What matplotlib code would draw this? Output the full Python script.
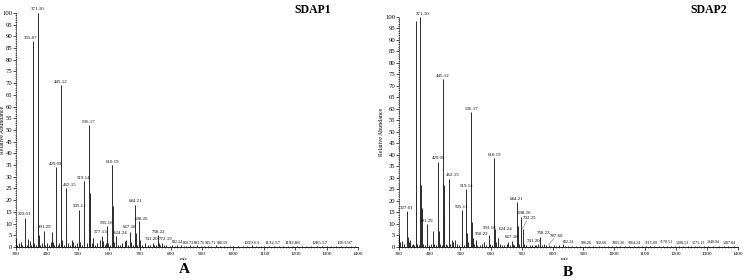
import matplotlib
matplotlib.use("Agg")
import matplotlib.pyplot as plt
from matplotlib.ticker import MultipleLocator

plt.rcParams['font.family'] = ['Liberation Serif', 'DejaVu Serif']

# ---- SDAP1 (panel A): peak m/z and relative abundance ----
a_mz = [300.5, 304, 312, 318, 322, 329.01, 331, 337, 341, 346, 351, 355.07, 357.1, 360, 365,
        371.10, 373.1, 375, 379, 384, 391.29, 394, 402, 407, 413, 417, 419, 424, 429.09, 431,
        436, 440, 445.12, 447.1, 449, 455, 462.15, 463.2, 467, 474, 480, 484, 490, 496, 505.11,
        507, 512, 519.14, 521, 528, 536.17, 538.2, 540, 545, 550, 556, 563, 570, 577.13, 580,
        586, 590, 595.16, 598, 603, 610.19, 612.2, 615, 624.24, 628, 636, 642, 651, 656, 661,
        667.18, 670, 676, 684.21, 686.2, 690, 698.26, 700, 706, 715, 725, 733, 741.20, 745, 752,
        758.22, 760, 765, 772.19, 778, 785, 795, 803, 812, 820, 832.24, 840, 848, 860.73, 870,
        883.76, 895, 905, 918, 930, 945.71, 958, 970, 988.59, 1000, 1015, 1030, 1045, 1059.63,
        1072, 1088, 1100, 1115, 1132.57, 1148, 1160, 1175, 1192.86, 1205, 1220, 1235, 1250,
        1268, 1285.57, 1300, 1315, 1330, 1348, 1363.97, 1378, 1392]
a_int = [4, 1, 1.5, 2, 1, 12.5, 2, 1, 3.5, 2.5, 1, 88, 22, 1.5, 1,
         100, 29, 5, 1, 1.5, 7, 1, 1.5, 1, 2, 6.5, 2, 1, 34, 2,
         1, 1.5, 69, 26, 3, 1, 25, 9, 1.5, 1, 3, 2, 1, 1.5, 16,
         2, 1, 28, 5, 1.5, 52, 23, 5, 1.5, 4, 1, 1.5, 3, 4.5, 2.5,
         1, 1.5, 9, 1.5, 1, 35, 17.5, 2, 4.5, 1, 1, 1.5, 2.5, 3, 1,
         6.5, 2, 1, 18, 6, 1, 11, 3, 1, 1.5, 1, 1, 1.5, 1, 1,
         5, 1.5, 1, 1.5, 0.8, 1, 0.6, 0.8, 0.5, 0.8, 1, 0.5, 0.6, 0.8, 0.5,
         0.8, 0.5, 0.6, 0.5, 0.5, 0.7, 0.4, 0.5, 0.6, 0.4, 0.5, 0.4, 0.5, 0.7,
         0.4, 0.5, 0.4, 0.5, 0.6, 0.4, 0.5, 0.4, 0.6, 0.4, 0.5, 0.4, 0.5,
         0.4, 0.5, 0.4, 0.5, 0.4, 0.4, 0.5, 0.4, 0.4]
a_labels = [329.01, 355.07, 371.10, 391.29, 429.09, 445.12, 462.15, 505.11, 519.14, 536.17,
            577.13, 595.16, 610.19, 624.24, 667.18, 684.21, 698.26, 741.20, 758.22, 772.19,
            832.24, 860.73, 883.76, 945.71, 988.59, 1059.63, 1132.57, 1192.86, 1285.57, 1363.97]

# ---- SDAP2 (panel B) ----
b_mz = [300.5, 304, 310, 318, 327.01, 329, 333, 338, 342, 346, 351, 355.07, 357.1, 360, 365,
        371.10, 373.1, 375, 379, 385, 391.29, 393, 400, 406, 413, 416, 421, 429.09, 431, 436,
        440, 445.12, 447.1, 449, 453, 457, 462.15, 463.2, 467, 472, 478, 484, 490, 496, 505.11,
        507, 512, 519.14, 521, 526, 536.17, 538.2, 540, 545, 550.22, 556, 563, 570, 577, 584,
        593.16, 596, 603, 610.19, 612.2, 615, 624.24, 628, 636, 642, 651, 656, 661, 667.18, 672,
        676, 684.21, 686.2, 690, 698.26, 702.25, 706, 715, 725, 733, 741.20, 745, 752, 758.23,
        760, 765, 772, 778, 787.60, 795, 803, 812, 820, 832.24, 840, 850, 862, 875, 888, 906.26,
        918, 932, 950.60, 965, 980, 992, 1005.36, 1020, 1035, 1048, 1064.24, 1078, 1090, 1102,
        1115.09, 1130, 1145, 1158, 1170.51, 1185, 1196, 1208.53, 1222, 1238, 1250, 1262,
        1275.13, 1290, 1305, 1320, 1340.94, 1355, 1370, 1387.84]
b_int = [5, 2, 2.5, 1.5, 15.5, 4.5, 2, 3, 1, 1.5, 1, 98, 24, 1.5, 1,
         100, 27, 17, 1.5, 1, 10, 2, 1, 1.5, 7, 1.5, 1, 37, 7, 1.5,
         1, 73, 27, 13.5, 1.5, 1, 29.5, 9.5, 1.5, 3, 2, 3, 1.5, 1, 16,
         2, 1, 25, 6, 2, 58.5, 11, 4, 1.5, 3, 1, 1, 1.5, 2, 1,
         5, 1.5, 1, 38.5, 8, 2, 4, 1.5, 1, 1, 1.5, 2, 1, 2.5, 1.5,
         1, 19.5, 9, 1.5, 13, 8, 1.5, 1, 1, 0.8, 1, 0.8, 1.5, 4.5,
         1.5, 1, 1.5, 0.8, 1, 0.6, 0.8, 0.5, 0.8, 1.5, 0.5, 0.6, 0.5, 0.6, 0.5, 0.6,
         0.4, 0.5, 0.6, 0.4, 0.5, 0.4, 0.6, 0.4, 0.5, 0.4, 0.6, 0.4, 0.5, 0.4,
         0.5, 0.4, 0.5, 0.4, 0.6, 0.4, 0.5, 0.5, 0.4, 0.5, 0.4, 0.4,
         0.5, 0.4, 0.5, 0.4, 0.6, 0.4, 0.4, 0.5]
b_labels = [327.01, 371.10, 391.29, 429.09, 445.12, 462.15, 505.11, 519.14, 536.17, 550.22,
            593.16, 610.19, 624.24, 667.18, 684.21, 698.26, 702.25, 741.20, 758.23, 787.60,
            832.24, 906.26, 950.60, 1005.36, 1064.24, 1115.09, 1170.51, 1208.53, 1275.13,
            1340.94, 1387.84]

# label placement tweaks: (x centre, y bottom) in data units
a_label_pos = {355.07: (349, 88.5), 462.15: (474, 25.5), 577.13: (572, 5.5), 595.16: (594, 9.5),
               624.24: (638, 5.0), 667.18: (665, 7.5), 698.26: (706, 11.2), 741.20: (736, 2.5),
               772.19: (782, 2.5), 832.24: (820, 1.2), 860.73: (856, 1.0), 883.76: (892, 1.0),
               945.71: (928, 1.0), 988.59: (964, 1.0), 1059.63: (1060, 1.0), 1132.57: (1127, 1.0),
               1192.86: (1190, 1.0), 1285.57: (1277, 1.0), 1363.97: (1357, 1.0)}
b_label_pos = {371.10: (378, 100.3), 462.15: (476, 30.5), 550.22: (568, 4.7), 593.16: (595, 7.5),
               624.24: (648, 7.0), 667.18: (667, 3.6), 698.26: (708, 14.0), 702.25: (724, 11.5),
               741.20: (738, 1.8), 758.23: (770, 5.2), 787.60: (812, 3.8), 832.24: (850, 1.4),
               906.26: (910, 1.0), 950.60: (958, 1.0), 1005.36: (1012, 1.0), 1064.24: (1066, 1.0),
               1115.09: (1118, 1.0), 1170.51: (1170, 1.5), 1208.53: (1222, 1.0),
               1275.13: (1272, 1.0), 1340.94: (1322, 1.5), 1387.84: (1372, 0.8)}
b_leaders = [702.25, 787.60]
small_labels = [832.24, 860.73, 883.76, 945.71, 988.59, 906.26, 950.60, 1005.36, 1064.24,
                1115.09, 1170.51, 1208.53, 1275.13, 1340.94, 1387.84]


def draw_spectrum(ax, mz, inten, labels, label_pos, leaders=(), ylab_x=-0.03):
    ax.vlines(mz, 0, inten, colors='#2a2a2a', linewidth=0.7)
    peaks = dict(zip(mz, inten))
    for m in labels:
        x, y = label_pos.get(m, (m, peaks[m] + 0.6))
        fs = 3.0 if m in small_labels else 3.5
        ax.text(x, y, f"{m:.2f}", fontsize=fs, ha='center', va='bottom', clip_on=False)
        if m in leaders:
            ax.plot([m, x - 8], [peaks[m], y], color='#777777', linewidth=0.4)
    ax.set_xlim(300, 1400)
    ax.set_ylim(0, 100)
    ax.xaxis.set_major_locator(MultipleLocator(100))
    ax.xaxis.set_minor_locator(MultipleLocator(10))
    ax.yaxis.set_major_locator(MultipleLocator(5))
    ax.yaxis.set_minor_locator(MultipleLocator(1))
    ax.tick_params(axis='x', which='major', labelsize=3.8, length=2, width=0.5, pad=1.5)
    ax.tick_params(axis='x', which='minor', length=1, width=0.4)
    ax.tick_params(axis='y', which='major', labelsize=4.8, length=2, width=0.5, pad=0.5)
    ax.tick_params(axis='y', which='minor', length=1, width=0.4)
    for s in ['top', 'right']:
        ax.spines[s].set_visible(False)
    ax.spines['left'].set_linewidth(0.5)
    ax.spines['left'].set_linestyle(':')
    ax.spines['bottom'].set_linewidth(0.6)
    ax.set_ylabel('Relative Abundance', fontsize=4.2)
    ax.yaxis.set_label_coords(ylab_x, 0.5)
    ax.text(840, -0.045, 'm/z', fontsize=3.8, ha='center', va='top',
            transform=ax.get_xaxis_transform())


fig = plt.figure(figsize=(7.45, 2.8), dpi=100)
axA = fig.add_axes([0.021, 0.118, 0.459, 0.836])
axB = fig.add_axes([0.535, 0.118, 0.455, 0.822])

draw_spectrum(axA, a_mz, a_int, a_labels, a_label_pos, ylab_x=-0.031)
draw_spectrum(axB, b_mz, b_int, b_labels, b_label_pos, b_leaders, ylab_x=-0.042)

fig.text(0.42, 0.965, 'SDAP1', fontsize=8.5, ha='center', va='center', fontweight='bold')
fig.text(0.951, 0.965, 'SDAP2', fontsize=8.5, ha='center', va='center', fontweight='bold')
fig.text(0.248, 0.038, 'A', fontsize=11, ha='center', va='center', fontweight='bold')
fig.text(0.762, 0.027, 'B', fontsize=11, ha='center', va='center', fontweight='bold')

fig.savefig('out.png', dpi=100)
